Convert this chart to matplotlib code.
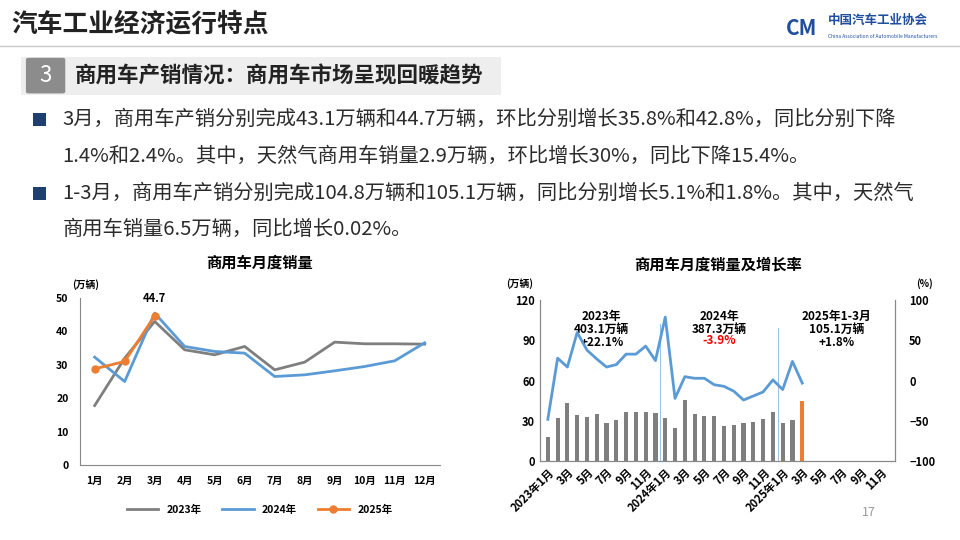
import matplotlib.pyplot as plt
from matplotlib.patches import Rectangle, FancyBboxPatch
import numpy as np

plt.rcParams['font.family'] = 'Noto Sans CJK SC'

months = ['1月', '2月', '3月', '4月', '5月', '6月', '7月', '8月', '9月', '10月', '11月', '12月']
sales_2023 = [17.8, 32.0, 43.0, 34.5, 33.0, 35.5, 28.5, 30.8, 36.8, 36.3, 36.3, 36.2]
sales_2024 = [32.3, 25.0, 45.5, 35.5, 34.0, 33.5, 26.5, 27.0, 28.2, 29.5, 31.2, 36.6]
sales_2025 = [28.8, 31.0, 44.7]

# monthly sales Jan 2023 - Mar 2025 and yoy growth (%)
monthly_sales = sales_2023 + sales_2024 + sales_2025
monthly_growth = [-48, 28, 17, 60, 38, 27, 17, 20, 33, 33, 43, 25,
                  79, -22, 5, 3, 3, -5, -7, -13, -24, -19, -14, 1,
                  -11, 24, -3]
slot_labels = []
for y in [2023, 2024, 2025]:
    for m in range(1, 13):
        if m == 1:
            slot_labels.append('%d年1月' % y)
        elif m % 2 == 1:
            slot_labels.append('%d月' % m)
        else:
            slot_labels.append('')

fig = plt.figure(figsize=(9.6, 5.4), dpi=100)
fig.patch.set_facecolor('white')

# header
fig.text(0.012, 0.955, '汽车工业经济运行特点', fontsize=18.5, fontweight='bold', va='center', color='#222222')
fig.add_artist(plt.Line2D([0.0, 1.0], [0.915, 0.915], color='#c8c8c8', lw=1))
fig.text(0.862, 0.962, '中国汽车工业协会', fontsize=9, fontweight='bold', color='#1f4e9e', va='center')
fig.text(0.862, 0.932, 'China Association of Automobile Manufacturers', fontsize=3.5, color='#1f4e9e', va='center')
fig.text(0.835, 0.948, 'CM', fontsize=15, fontweight='bold', style='italic', color='#1f4e9e', va='center', ha='center')

# section bar
fig.add_artist(Rectangle((0.022, 0.825), 0.5, 0.07, transform=fig.transFigure, color='#eeeeee', lw=0))
fig.add_artist(FancyBboxPatch((0.03, 0.83), 0.035, 0.06, boxstyle='round,pad=0.003',
                              transform=fig.transFigure, color='#8c8c8c', lw=0))
fig.text(0.0475, 0.86, '3', fontsize=16, color='white', ha='center', va='center')
fig.text(0.078, 0.86, '商用车产销情况：商用车市场呈现回暖趋势', fontsize=15.5, fontweight='bold', va='center', color='#222222')

bullets = [(0.778, '3月，商用车产销分别完成43.1万辆和44.7万辆，环比分别增长35.8%和42.8%，同比分别下降'),
           (0.710, '1.4%和2.4%。其中，天然气商用车销量2.9万辆，环比增长30%，同比下降15.4%。'),
           (0.642, '1-3月，商用车产销分别完成104.8万辆和105.1万辆，同比分别增长5.1%和1.8%。其中，天然气'),
           (0.575, '商用车销量6.5万辆，同比增长0.02%。')]
for i, (yy, t) in enumerate(bullets):
    if i in (0, 2):
        fig.add_artist(Rectangle((0.034, yy - 0.012), 0.014, 0.024, transform=fig.transFigure,
                                 color='#1f3f6e', lw=0))
    fig.text(0.065, yy, t, fontsize=14.6, va='center', color='#2b2b2b')

fig.text(0.905, 0.045, '17', fontsize=9, color='#999999', ha='center')

# left chart
ax1 = fig.add_axes([0.083, 0.139, 0.375, 0.309])
x = np.arange(12)
ax1.plot(x, sales_2023, color='#7f7f7f', lw=2, label='2023年')
ax1.plot(x, sales_2024, color='#5b9bd5', lw=2, label='2024年')
ax1.plot(x[:3], sales_2025, color='#ed7d31', lw=2, marker='o', ms=5, label='2025年')
ax1.annotate('44.7', (2, sales_2025[2]), xytext=(0, 10), textcoords='offset points',
             ha='center', fontsize=8, fontweight='bold')
ax1.set_ylim(0, 50)
ax1.set_xlim(-0.5, 11.5)
ax1.set_yticks(range(0, 51, 10))
ax1.set_xticks(x)
ax1.set_xticklabels(months)
for s in ['top', 'right']:
    ax1.spines[s].set_visible(False)
ax1.spines['left'].set_color('#888888')
ax1.spines['bottom'].set_color('#888888')
ax1.tick_params(length=0, labelsize=7.5, pad=8)
for lab in ax1.get_xticklabels() + ax1.get_yticklabels():
    lab.set_fontweight('bold')
ax1.set_title('商用车月度销量', fontsize=11, fontweight='bold', pad=22)
ax1.text(-0.02, 1.06, '(万辆)', transform=ax1.transAxes, fontsize=7, fontweight='bold')
ax1.legend(loc='upper center', bbox_to_anchor=(0.5, -0.18), ncol=3, frameon=False,
           prop={'size': 7.5, 'weight': 'bold'}, handlelength=3)

# right chart
ax2 = fig.add_axes([0.5625, 0.146, 0.37, 0.298])
xs = np.arange(36)
n = len(monthly_sales)
colors = ['#7f7f7f'] * (n - 1) + ['#ed7d31']
ax2.bar(xs[:n], monthly_sales, width=0.42, color=colors)
ax2.set_ylim(0, 120)
ax2.set_yticks(range(0, 121, 30))
ax2.set_xlim(-0.8, 35.5)
ax2.set_xticks(xs)
ax2.set_xticklabels(slot_labels, rotation=45, ha='right', rotation_mode='anchor')
ax2.axvline(11.5, ymax=0.85, color='#9dc3e6', lw=0.8)
ax2.axvline(23.5, ymax=0.83, color='#9dc3e6', lw=0.8)
for s in ['top']:
    ax2.spines[s].set_visible(False)
for s in ['left', 'right', 'bottom']:
    ax2.spines[s].set_color('#888888')
ax2.tick_params(length=0, labelsize=8)
for lab in ax2.get_xticklabels() + ax2.get_yticklabels():
    lab.set_fontweight('bold')
ax3 = ax2.twinx()
ax3.plot(xs[:len(monthly_growth)], monthly_growth, color='#5b9bd5', lw=2)
ax3.set_ylim(-100, 100)
ax3.set_yticks(range(-100, 101, 50))
ax3.spines['top'].set_visible(False)
for s in ['left', 'right', 'bottom']:
    ax3.spines[s].set_color('#888888')
ax3.tick_params(length=0, labelsize=8, pad=10)
for lab in ax3.get_yticklabels():
    lab.set_fontweight('bold')
ax2.set_title('商用车月度销量及增长率', fontsize=11, fontweight='bold', pad=22)
ax2.text(-0.02, 1.08, '(万辆)', transform=ax2.transAxes, fontsize=7, fontweight='bold', ha='right')
ax2.text(1.06, 1.08, '(%)', transform=ax2.transAxes, fontsize=7, fontweight='bold')
ax2.text(5.5, 113, '2023年\n403.1万辆\n+22.1%', ha='center', va='top', fontsize=8.5,
         fontweight='bold', linespacing=1.0)
ax2.text(17.5, 113, '2024年\n387.3万辆', ha='center', va='top', fontsize=8.5,
         fontweight='bold', linespacing=1.0)
ax2.text(17.5, 95, '-3.9%', ha='center', va='top', fontsize=8.5, fontweight='bold', color='#ff0000')
ax2.text(29.5, 113, '2025年1-3月\n105.1万辆\n+1.8%', ha='center', va='top', fontsize=8.5,
         fontweight='bold', linespacing=1.0)

fig.savefig('out.png', dpi=100)
